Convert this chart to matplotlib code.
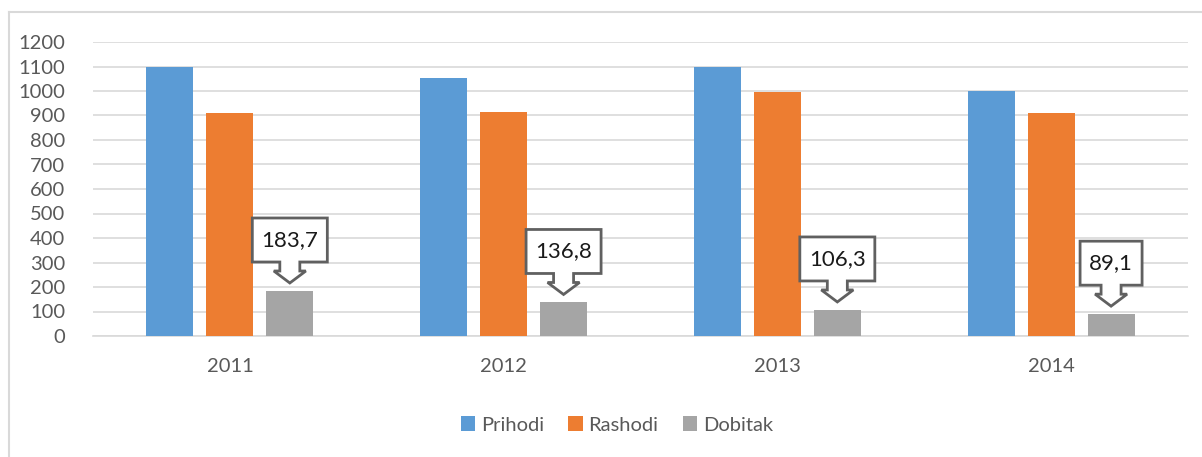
import matplotlib
matplotlib.use("Agg")
import matplotlib.pyplot as plt
import matplotlib.transforms as mtransforms
from matplotlib.patches import Polygon
from matplotlib.lines import Line2D
import numpy as np

years = ["2011", "2012", "2013", "2014"]
prihodi = [1100, 1055, 1100, 1000]
rashodi = [910, 915, 995, 910]
dobitak = [183.7, 136.8, 106.3, 89.1]
dobitak_labels = ["183,7", "136,8", "106,3", "89,1"]
yticks = list(range(0, 1300, 100))

plt.rcParams["font.family"] = ["Lato", "DejaVu Sans"]
W, H = 1202, 457
fig = plt.figure(figsize=(W / 100, H / 100), dpi=100)
ax = fig.add_axes([93 / W, (H - 336) / H, 1095 / W, 294 / H])

x = np.arange(len(years))
bw = 0.172
step = 0.219
series = [("Prihodi", prihodi, "#5B9BD5"),
          ("Rashodi", rashodi, "#ED7D31"),
          ("Dobitak", dobitak, "#A5A5A5")]
for i, (name, vals, col) in enumerate(series):
    ax.bar(x + (i - 1) * step, vals, bw, color=col, label=name, zorder=3)

ax.set_xlim(-0.5, len(years) - 0.5)
ax.set_ylim(0, 1200)
ax.set_yticks(yticks)
ax.set_xticks(x)
ax.set_xticklabels(years)
ax.yaxis.grid(True, color="#d9d9d9", linewidth=1.2, zorder=0)
for s in ["top", "right", "left"]:
    ax.spines[s].set_visible(False)
ax.spines["bottom"].set_color("#d9d9d9")
ax.spines["bottom"].set_linewidth(1.2)
ax.tick_params(axis="both", length=0, labelsize=14.5, colors="#595959")
ax.tick_params(axis="y", pad=20)
ax.tick_params(axis="x", pad=16)

# callouts above profit bars (shape in pixels, anchored on bar top)
for xi, v, lab in zip(x + step, dobitak, dobitak_labels):
    hw = (13 * len(lab) + 10) / 2
    verts = [(0, 8), (16, 20), (10, 20), (10, 29), (hw, 29), (hw, 73),
             (-hw, 73), (-hw, 29), (-10, 29), (-10, 20), (-16, 20)]
    tr = mtransforms.Affine2D() + mtransforms.ScaledTranslation(xi, v, ax.transData)
    ax.add_patch(Polygon(verts, closed=True, transform=tr, facecolor="white",
                         edgecolor="#606060", linewidth=2, zorder=5, clip_on=False))
    ttr = mtransforms.Affine2D() + mtransforms.ScaledTranslation(xi, v, ax.transData)
    ax.text(0, 51, lab, transform=ttr, ha="center", va="center", fontsize=16,
            color="#1a1a1a", zorder=6)

fig.legend(loc="center", bbox_to_anchor=(617 / W, 1 - 425 / H), ncol=3,
           frameon=False, fontsize=14.5, handlelength=0.7, handleheight=0.7,
           handletextpad=0.3, columnspacing=1.2, labelcolor="#595959")

# chart frame
fig.add_artist(Line2D([9 / W, 1], [1 - 12 / H, 1 - 12 / H], color="#d9d9d9", lw=1.5))
fig.add_artist(Line2D([9 / W, 9 / W], [0, 1 - 12 / H], color="#d9d9d9", lw=1.5))

fig.savefig("out.png", dpi=100)
